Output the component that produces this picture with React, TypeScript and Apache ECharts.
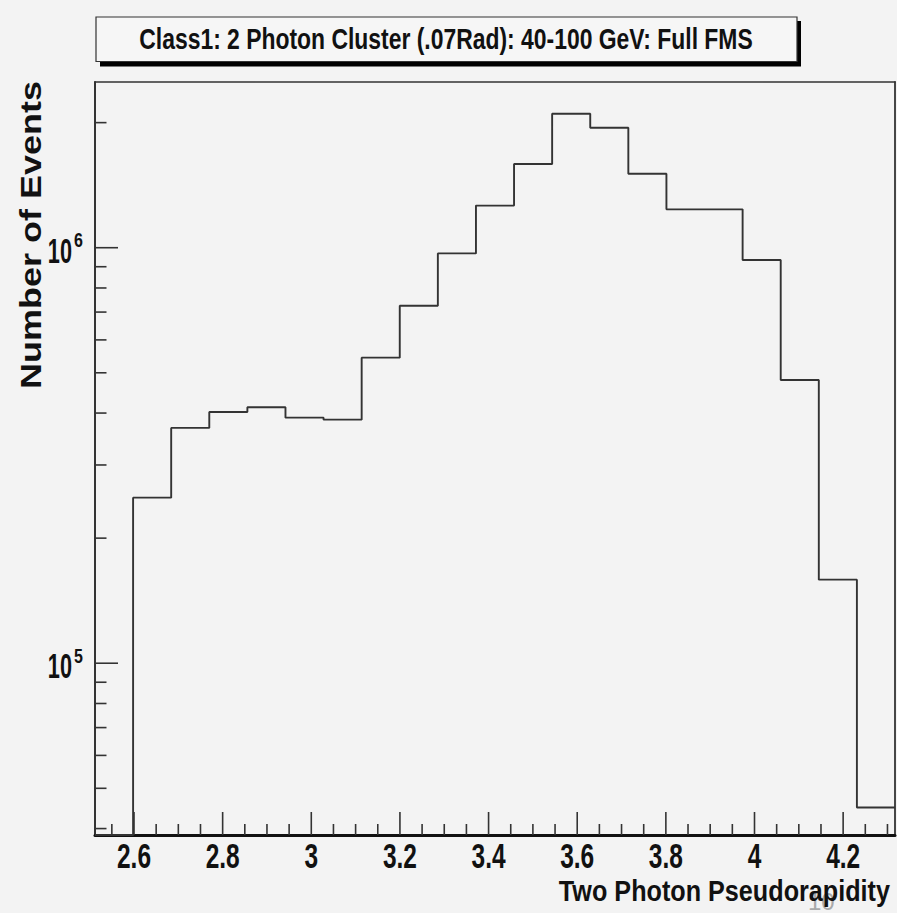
import React, { useEffect, useRef } from 'react';
import * as echarts from 'echarts';

const TITLE = 'Class1: 2 Photon Cluster (.07Rad): 40-100 GeV: Full FMS';
const X_TITLE = 'Two Photon Pseudorapidity';
const Y_TITLE = 'Number of Events';

// Histogram: 21 equal-width pseudorapidity bins between ETA_LOW and ETA_HIGH
const ETA_LOW = 2.512;
const ETA_HIGH = 4.317;
const BIN_COUNTS = [
  0, 250300, 368400, 402400, 413000, 390000, 385600, 543700, 725000, 969000,
  1263000, 1590000, 2101000, 1944000, 1507000, 1237000, 1237000, 934000,
  480500, 158900, 44940,
];

// Log y range of the frame
const Y_MIN = 38600;
const Y_MAX = 2505000;

const X_MAJOR_TICKS = [2.6, 2.8, 3.0, 3.2, 3.4, 3.6, 3.8, 4.0, 4.2];
const X_TICK_LABELS = ['2.6', '2.8', '3', '3.2', '3.4', '3.6', '3.8', '4', '4.2'];
const X_MINOR_DIVISIONS = 4;
const Y_MAJOR_TICKS = [1e5, 1e6];
const Y_TICK_EXPONENTS = ['5', '6'];
const Y_MINOR_TICKS = [4e4, 5e4, 6e4, 7e4, 8e4, 9e4, 2e5, 3e5, 4e5, 5e5, 6e5, 7e5, 8e5, 9e5, 2e6];

const FONT = '"Liberation Sans", Arial, Helvetica, sans-serif';
const INK = '#333333';
const BG = '#f3f3f3';

function buildStepPoints(): number[][] {
  const width = (ETA_HIGH - ETA_LOW) / BIN_COUNTS.length;
  const pts: number[][] = [];
  BIN_COUNTS.forEach((c, i) => {
    const lo = ETA_LOW + i * width;
    const hi = lo + width;
    const y = c > 0 ? c : Y_MIN;
    pts.push([lo, y], [hi, y]);
  });
  return pts;
}

function buildXTicks(): number[][] {
  const step = (X_MAJOR_TICKS[1] - X_MAJOR_TICKS[0]) / X_MINOR_DIVISIONS;
  const out: number[][] = [];
  const start = Math.ceil(ETA_LOW / step);
  const end = Math.floor(ETA_HIGH / step);
  for (let k = start; k <= end; k++) {
    const v = Math.round(k * step * 1000) / 1000;
    const major = X_MAJOR_TICKS.some((m) => Math.abs(m - v) < 1e-6) ? 1 : 0;
    out.push([v, Y_MIN, major]);
  }
  return out;
}

export default function App() {
  const ref = useRef<HTMLDivElement>(null);

  useEffect(() => {
    if (!ref.current) return;
    const chart = echarts.init(ref.current, undefined, { renderer: 'svg' });

    const axisBase = {
      axisTick: { show: false },
      axisLabel: { show: false },
      splitLine: { show: false },
    };

    const option: any = {
      animation: false,
      backgroundColor: BG,
      grid: { left: 95, top: 82, width: 800, height: 753, containLabel: false },
      xAxis: [
        {
          type: 'value', min: ETA_LOW, max: ETA_HIGH, position: 'bottom',
          axisLine: { show: true, onZero: false, lineStyle: { color: '#111', width: 3 } },
          ...axisBase,
        },
        {
          type: 'value', min: ETA_LOW, max: ETA_HIGH, position: 'top',
          axisLine: { show: true, onZero: false, lineStyle: { color: INK, width: 1.6 } },
          ...axisBase,
        },
      ],
      yAxis: [
        {
          type: 'log', logBase: 10, min: Y_MIN, max: Y_MAX, position: 'left',
          axisLine: { show: true, lineStyle: { color: INK, width: 2 } },
          ...axisBase,
        },
        {
          type: 'log', logBase: 10, min: Y_MIN, max: Y_MAX, position: 'right',
          axisLine: { show: true, lineStyle: { color: INK, width: 1.8 } },
          ...axisBase,
        },
      ],
      series: [
        {
          type: 'line',
          xAxisIndex: 0,
          yAxisIndex: 0,
          data: buildStepPoints(),
          showSymbol: false,
          symbol: 'none',
          lineStyle: { color: INK, width: 1.9 },
          z: 2,
        },
        // x ticks (inside the frame)
        {
          type: 'custom',
          xAxisIndex: 0,
          yAxisIndex: 0,
          clip: false,
          z: 3,
          data: buildXTicks(),
          renderItem: (_p: any, api: any) => {
            const p = api.coord([api.value(0), Y_MIN]);
            const len = api.value(2) ? 23 : 11;
            return {
              type: 'line',
              shape: { x1: p[0], y1: p[1], x2: p[0], y2: p[1] - len },
              style: { stroke: INK, lineWidth: 1.6 },
            };
          },
        },
        // x tick labels
        {
          type: 'custom',
          xAxisIndex: 0,
          yAxisIndex: 0,
          clip: false,
          z: 3,
          data: X_MAJOR_TICKS.map((v) => [v, Y_MIN]),
          renderItem: (params: any, api: any) => {
            const p = api.coord([api.value(0), Y_MIN]);
            return {
              type: 'text',
              x: p[0],
              y: p[1] + 21,
              scaleX: 0.7,
              style: {
                text: X_TICK_LABELS[params.dataIndex],
                fontFamily: FONT,
                fontWeight: 'bold',
                fontSize: 35,
                fill: '#111',
                align: 'center',
                verticalAlign: 'middle',
              },
            };
          },
        },
        // y ticks (inside the frame)
        {
          type: 'custom',
          xAxisIndex: 0,
          yAxisIndex: 0,
          clip: false,
          z: 3,
          data: [
            ...Y_MAJOR_TICKS.map((v) => [ETA_LOW, v, 1]),
            ...Y_MINOR_TICKS.map((v) => [ETA_LOW, v, 0]),
          ],
          renderItem: (_p: any, api: any) => {
            const p = api.coord([ETA_LOW, api.value(1)]);
            const len = api.value(2) ? 23 : 11.5;
            return {
              type: 'line',
              shape: { x1: p[0], y1: p[1], x2: p[0] + len, y2: p[1] },
              style: { stroke: INK, lineWidth: 1.6 },
            };
          },
        },
        // y tick labels: 10 with superscript exponent
        {
          type: 'custom',
          xAxisIndex: 0,
          yAxisIndex: 0,
          clip: false,
          z: 3,
          data: Y_MAJOR_TICKS.map((v) => [ETA_LOW, v]),
          renderItem: (params: any, api: any) => {
            const p = api.coord([ETA_LOW, api.value(1)]);
            return {
              type: 'group',
              children: [
                {
                  type: 'text',
                  x: p[0] - 23,
                  y: p[1] + 3,
                  scaleX: 0.62,
                  style: {
                    text: '10',
                    fontFamily: FONT,
                    fontWeight: 'bold',
                    fontSize: 35,
                    fill: '#111',
                    align: 'right',
                    verticalAlign: 'middle',
                  },
                },
                {
                  type: 'text',
                  x: p[0] - 21,
                  y: p[1] - 7,
                  scaleX: 0.82,
                  style: {
                    text: Y_TICK_EXPONENTS[params.dataIndex],
                    fontFamily: FONT,
                    fontWeight: 'bold',
                    fontSize: 19.5,
                    fill: '#111',
                    align: 'left',
                    verticalAlign: 'middle',
                  },
                },
              ],
            };
          },
        },
      ],
      graphic: [
        // faint stray text near the lower right corner
        {
          type: 'text',
          left: 808,
          top: 889,
          z: 0,
          style: { text: '10', fontFamily: FONT, fontSize: 24, fill: '#a9a9a9' },
        },
        // title pave with drop shadow
        {
          type: 'rect',
          z: 10,
          shape: { x: 100, y: 21, width: 701, height: 45.5 },
          style: { fill: '#000' },
        },
        {
          type: 'rect',
          z: 11,
          shape: { x: 96, y: 17, width: 701, height: 44.5 },
          style: { fill: '#f6f6f6', stroke: INK, lineWidth: 1.2 },
        },
        {
          type: 'text',
          z: 12,
          x: 446,
          y: 39,
          scaleX: 0.79,
          style: {
            text: TITLE,
            fontFamily: FONT,
            fontWeight: 'bold',
            fontSize: 29,
            fill: '#111',
            align: 'center',
            verticalAlign: 'middle',
          },
        },
        // x axis title
        {
          type: 'text',
          z: 12,
          x: 890,
          y: 891,
          scaleX: 0.84,
          style: {
            text: X_TITLE,
            fontFamily: FONT,
            fontWeight: 'bold',
            fontSize: 30,
            fill: '#111',
            align: 'right',
            verticalAlign: 'middle',
          },
        },
        // y axis title
        {
          type: 'text',
          z: 12,
          x: 31,
          y: 235,
          rotation: Math.PI / 2,
          scaleY: 0.8,
          style: {
            text: Y_TITLE,
            fontFamily: FONT,
            fontWeight: 'bold',
            fontSize: 36,
            fill: '#111',
            align: 'center',
            verticalAlign: 'middle',
          },
        },
      ],
    };

    chart.setOption(option);
    return () => chart.dispose();
  }, []);

  return (
    <div style={{ position: 'fixed', left: 0, top: 0, width: 897, height: 913, background: BG }}>
      <div ref={ref} style={{ width: 897, height: 913 }} />
    </div>
  );
}
